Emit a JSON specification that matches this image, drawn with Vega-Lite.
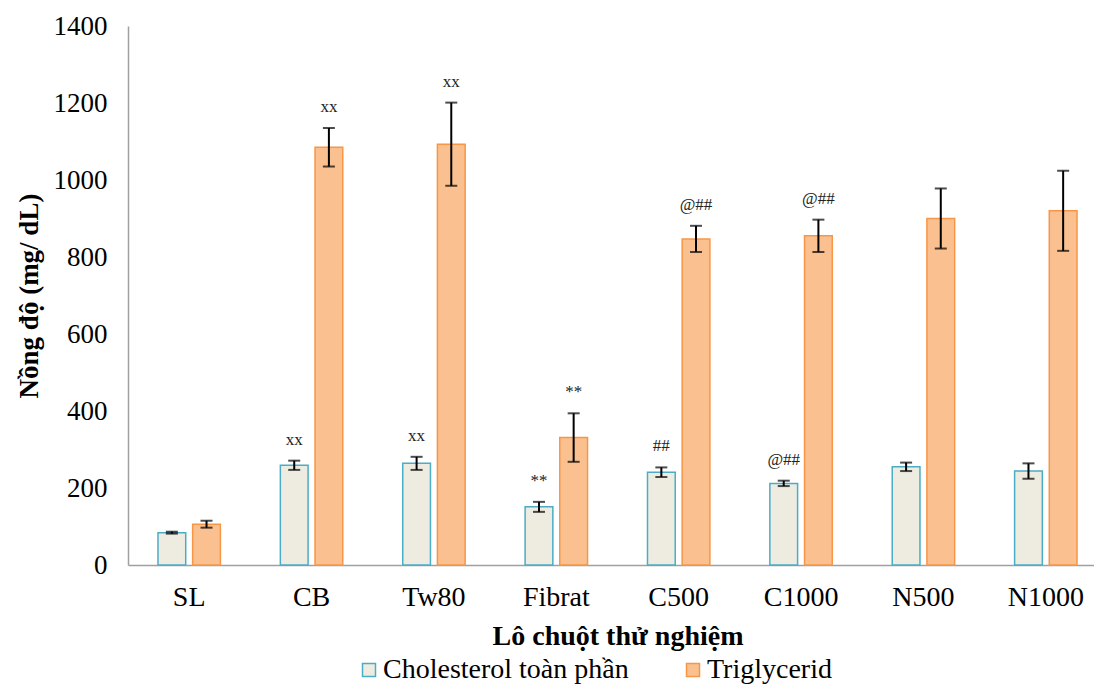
{
  "$schema": "https://vega.github.io/schema/vega-lite/v6.json",
  "autosize": "none",
  "padding": {"left": 128, "top": 26, "right": 0, "bottom": 122},
  "width": 979,
  "height": 539,
  "background": "white",
  "config": {
    "view": {"stroke": null},
    "font": "Liberation Serif",
    "axis": {"labelFont": "Liberation Serif", "titleFont": "Liberation Serif", "labelColor": "black", "titleColor": "black", "grid": false, "ticks": false, "domainColor": "#a0a0a0", "domainWidth": 1.5}
  },
  "data": {
    "values": [
      {"group": "SL", "series": "Cholesterol toàn phần", "value": 84, "err": 2.5, "label": ""},
      {"group": "SL", "series": "Triglycerid", "value": 106, "err": 9, "label": ""},
      {"group": "CB", "series": "Cholesterol toàn phần", "value": 259, "err": 12, "label": "xx"},
      {"group": "CB", "series": "Triglycerid", "value": 1085, "err": 50, "label": "xx"},
      {"group": "Tw80", "series": "Cholesterol toàn phần", "value": 264, "err": 17, "label": "xx"},
      {"group": "Tw80", "series": "Triglycerid", "value": 1093, "err": 108, "label": "xx"},
      {"group": "Fibrat", "series": "Cholesterol toàn phần", "value": 151, "err": 13, "label": "**"},
      {"group": "Fibrat", "series": "Triglycerid", "value": 331, "err": 63, "label": "**"},
      {"group": "C500", "series": "Cholesterol toàn phần", "value": 241, "err": 12.5, "label": "##"},
      {"group": "C500", "series": "Triglycerid", "value": 847, "err": 34, "label": "@##"},
      {"group": "C1000", "series": "Cholesterol toàn phần", "value": 212, "err": 7, "label": "@##"},
      {"group": "C1000", "series": "Triglycerid", "value": 855, "err": 42, "label": "@##"},
      {"group": "N500", "series": "Cholesterol toàn phần", "value": 255, "err": 11, "label": ""},
      {"group": "N500", "series": "Triglycerid", "value": 900, "err": 78, "label": ""},
      {"group": "N1000", "series": "Cholesterol toàn phần", "value": 244, "err": 20, "label": ""},
      {"group": "N1000", "series": "Triglycerid", "value": 920, "err": 104, "label": ""}
    ]
  },
  "transform": [
    {"calculate": "datum.value + datum.err", "as": "upper"},
    {"calculate": "datum.value - datum.err", "as": "lower"}
  ],
  "encoding": {
    "x": {
      "field": "group", "type": "nominal", "sort": null,
      "scale": {"paddingInner": 0.49, "paddingOuter": 0.245},
      "axis": {"title": "Lô chuột thử nghiệm", "labelAngle": 0, "labelFontSize": 28, "labelPadding": 18, "titleFontSize": 28, "titleFontWeight": "bold", "titlePadding": 11}
    },
    "xOffset": {
      "field": "series", "type": "nominal", "sort": ["Cholesterol toàn phần", "Triglycerid"],
      "scale": {"paddingInner": 0.2, "paddingOuter": 0}
    }
  },
  "layer": [
    {
      "mark": {"type": "bar", "strokeWidth": 1.5},
      "encoding": {
        "y": {
          "field": "value", "type": "quantitative",
          "scale": {"domain": [0, 1400], "nice": false},
          "axis": {"values": [0, 200, 400, 600, 800, 1000, 1200, 1400], "format": "d", "title": "Nồng độ (mg/ dL)", "labelFontSize": 27, "labelPadding": 21, "titleFontSize": 27, "titleFontWeight": "bold", "titlePadding": 10}
        },
        "fill": {
          "field": "series", "type": "nominal",
          "scale": {"domain": ["Cholesterol toàn phần", "Triglycerid"], "range": ["#EEECE1", "#FAC090"]},
          "legend": {"title": null, "orient": "none", "legendX": 227, "legendY": 630, "direction": "horizontal", "symbolType": "square", "symbolSize": 169, "symbolStrokeWidth": 1.5, "labelFont": "Liberation Serif", "labelFontSize": 28, "labelColor": "black", "labelOffset": 0, "labelLimit": 500, "columnPadding": 50, "padding": 0}
        },
        "stroke": {
          "field": "series", "type": "nominal",
          "scale": {"domain": ["Cholesterol toàn phần", "Triglycerid"], "range": ["#4BACC6", "#F79646"]}
        }
      }
    },
    {
      "mark": {"type": "rule", "color": "black", "strokeWidth": 2},
      "encoding": {
        "y": {"field": "lower", "type": "quantitative"},
        "y2": {"field": "upper"}
      }
    },
    {
      "mark": {"type": "tick", "color": "black", "size": 12, "thickness": 2},
      "encoding": {"y": {"field": "upper", "type": "quantitative"}}
    },
    {
      "mark": {"type": "tick", "color": "black", "size": 12, "thickness": 2},
      "encoding": {"y": {"field": "lower", "type": "quantitative"}}
    },
    {
      "mark": {"type": "text", "font": "Liberation Serif", "fontSize": 17, "color": "#222222", "baseline": "middle", "dy": -21},
      "encoding": {
        "y": {"field": "upper", "type": "quantitative"},
        "text": {"field": "label"}
      }
    }
  ]
}
